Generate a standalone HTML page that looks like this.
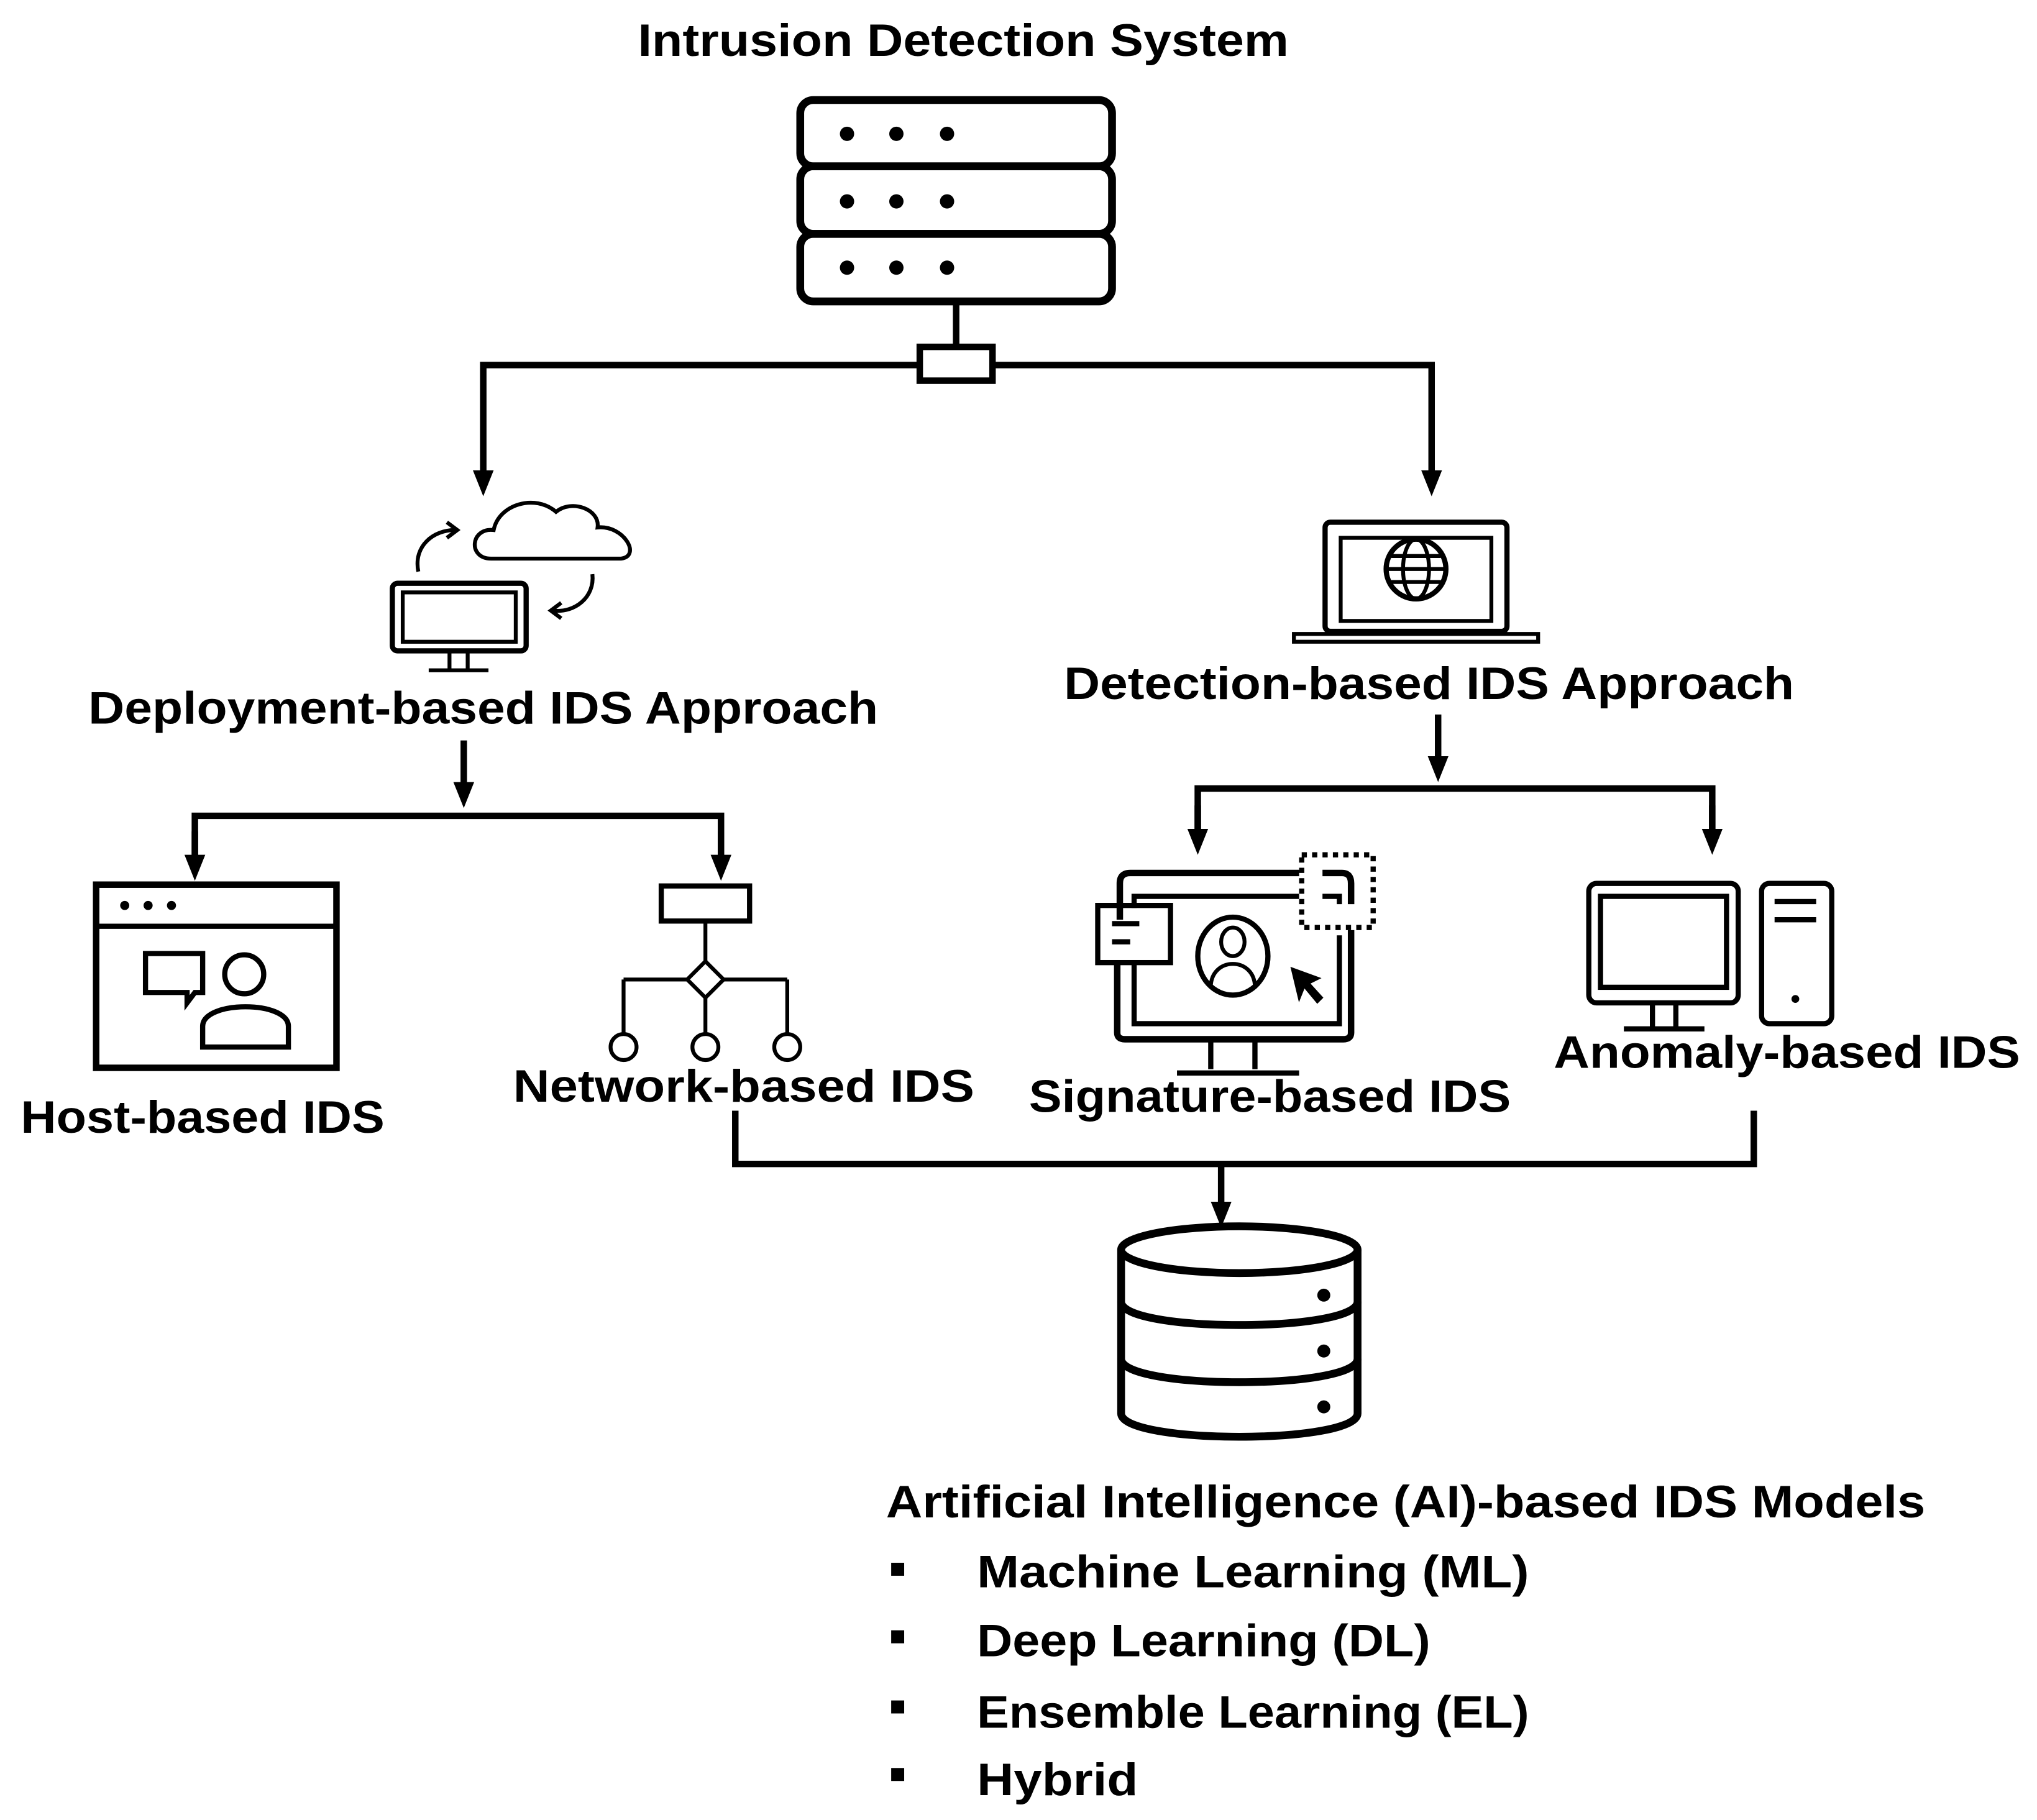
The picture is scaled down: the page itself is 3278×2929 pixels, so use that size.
<!DOCTYPE html>
<html><head><style>html,body{margin:0;padding:0;background:#fff}svg{display:block}</style></head>
<body>
<svg width="3278" height="2929" viewBox="0 0 1568 1401" xmlns="http://www.w3.org/2000/svg" font-family="Liberation Sans, sans-serif" font-weight="bold">
<defs><marker id="a" markerWidth="4" markerHeight="4" refX="2" refY="2" orient="auto" markerUnits="strokeWidth"><path d="M0,0.4 L4,2 L0,3.6z" fill="#000"/></marker></defs>
<g fill="none" stroke="#000">
<!-- server -->
<g stroke-width="6"><rect x="616" y="77" width="240" height="51" rx="10"/><rect x="616" y="128" width="240" height="52" rx="10"/><rect x="616" y="180" width="240" height="52" rx="10"/></g>
<line x1="736" y1="232" x2="736" y2="266" stroke-width="5"/>
<rect x="708" y="267" width="56" height="26" stroke-width="5"/>
<path d="M708,281 H372 V372" stroke-width="5" marker-end="url(#a)"/>
<path d="M764,281 H1102 V372" stroke-width="5" marker-end="url(#a)"/>
<!-- deployment icon -->
<rect x="302" y="449" width="103" height="52" rx="4" stroke-width="4"/><rect x="310" y="456" width="87" height="38" stroke-width="3"/>
<path d="M346,502 V515 M360,502 V515 M330,516 H376" stroke-width="3"/>
<path d="M378,430 C360,430 362,406 380,408 C384,388 412,380 428,394 C440,384 462,392 460,406 C480,404 494,428 478,430 Z" stroke-width="3"/>
<path d="M322,440 C318,420 334,408 350,408" stroke-width="3"/><path d="M344,402 L352,408 L344,414" stroke-width="3"/>
<path d="M456,442 C458,460 442,472 426,470" stroke-width="3"/><path d="M432,464 L424,470 L432,476" stroke-width="3"/>
<path d="M357,570 V612" stroke-width="5" marker-end="url(#a)"/>
<path d="M150,668 V628 H555 V668" stroke-width="5"/>
<path d="M150,640 V668" stroke-width="5" marker-end="url(#a)"/><path d="M555,640 V668" stroke-width="5" marker-end="url(#a)"/>
<!-- host icon -->
<rect x="74" y="681" width="185" height="141" stroke-width="5"/><line x1="74" y1="713" x2="259" y2="713" stroke-width="4"/>
<path d="M112,734 H156 V764 H150 L144,772 L144,764 H112 Z" stroke-width="4"/>
<circle cx="188" cy="750" r="15" stroke-width="4"/><path d="M156,806 V790 C156,770 222,770 222,790 V806 Z" stroke-width="4"/>
<!-- network icon -->
<rect x="509" y="682" width="68" height="27" stroke-width="4"/>
<path d="M543,709 V740 M480,754 H529 M557,754 H606 M480,754 V796 M543,768 V796 M606,754 V796" stroke-width="3"/>
<path d="M543,740 L557,754 L543,768 L529,754 Z" stroke-width="3"/>
<circle cx="480" cy="806" r="10" stroke-width="3"/><circle cx="543" cy="806" r="10" stroke-width="3"/><circle cx="606" cy="806" r="10" stroke-width="3"/>
<!-- laptop -->
<rect x="1020" y="402" width="140" height="84" rx="4" stroke-width="4"/><rect x="1032" y="414" width="116" height="64" stroke-width="3"/>
<path d="M996,488 H1184 V494 H996 Z" stroke-width="3"/>
<circle cx="1090" cy="438" r="23" stroke-width="4"/><ellipse cx="1090" cy="438" rx="10" ry="23" stroke-width="3"/><path d="M1067,438 H1113 M1071,428 H1109 M1071,448 H1109" stroke-width="3"/>
<path d="M1107,550 V592" stroke-width="5" marker-end="url(#a)"/>
<path d="M922,648 V607 H1318 V648" stroke-width="5"/>
<path d="M922,620 V648" stroke-width="5" marker-end="url(#a)"/><path d="M1318,620 V648" stroke-width="5" marker-end="url(#a)"/>
<!-- signature icon -->
<path d="M862,708 V680 Q862,672 870,672 H1000 M1018,672 H1033 Q1040,672 1040,680 V696 M1040,716 V795 Q1040,800 1034,800 H866 Q860,800 860,795 V740" stroke-width="5"/>
<path d="M873,699 V690 H1000 M1018,690 H1031 V696 M1031,720 V788 H873 V742" stroke-width="4"/>
<rect x="845" y="697" width="56" height="44" stroke-width="4"/><path d="M856,711 H877 M856,725 H870" stroke-width="4"/>
<rect x="1002" y="658" width="55" height="56" stroke-width="4" stroke-dasharray="4,4"/>
<ellipse cx="949" cy="736" rx="27" ry="30" stroke-width="4"/><ellipse cx="949" cy="725" rx="9" ry="11" stroke-width="3"/><path d="M932,760 C932,736 966,736 966,760" stroke-width="3"/>
<path d="M932,800 V823 M966,800 V823 M906,826 H1000" stroke-width="4"/>
<path d="M994,745 L1000,770 L1004,760 L1014,772 L1018,768 L1008,757 L1016,753 Z" fill="#000" stroke-width="1"/>
<!-- anomaly icon -->
<rect x="1223" y="680" width="115" height="92" rx="6" stroke-width="4"/><rect x="1232" y="690" width="97" height="70" stroke-width="4"/>
<path d="M1272,772 V792 M1290,772 V792 M1250,792 H1312" stroke-width="4"/>
<rect x="1356" y="680" width="54" height="108" rx="6" stroke-width="4"/><path d="M1366,694 H1398 M1366,708 H1398" stroke-width="4"/>
<!-- bottom -->
<path d="M566,855 V896 H1350 V855" stroke-width="5"/>
<path d="M940,896 V935" stroke-width="5" marker-end="url(#a)"/>
<path d="M863,962 V1088 C863,1112 1045,1112 1045,1088 V962" stroke-width="6"/>
<ellipse cx="954" cy="962" rx="91" ry="18" stroke-width="6"/>
<path d="M863,1002 C863,1026 1045,1026 1045,1002 M863,1046 C863,1070 1045,1070 1045,1046" stroke-width="6"/>
</g>
<g fill="#000">
<circle cx="652" cy="103" r="5.5"/><circle cx="690" cy="103" r="5.5"/><circle cx="729" cy="103" r="5.5"/>
<circle cx="652" cy="155" r="5.5"/><circle cx="690" cy="155" r="5.5"/><circle cx="729" cy="155" r="5.5"/>
<circle cx="652" cy="206" r="5.5"/><circle cx="690" cy="206" r="5.5"/><circle cx="729" cy="206" r="5.5"/>
<circle cx="96" cy="697" r="3.5"/><circle cx="114" cy="697" r="3.5"/><circle cx="132" cy="697" r="3.5"/>
<circle cx="1382" cy="769" r="3"/>
<circle cx="1019" cy="997" r="5"/><circle cx="1019" cy="1040" r="5"/><circle cx="1019" cy="1083" r="5"/>
<rect x="686" y="1203" width="10" height="10"/><rect x="686" y="1255" width="10" height="10"/><rect x="686" y="1309" width="10" height="10"/><rect x="686" y="1361" width="10" height="10"/>
<g font-size="35">
<text x="491" y="43" textLength="501" lengthAdjust="spacingAndGlyphs">Intrusion Detection System</text>
<text x="68" y="557" textLength="608" lengthAdjust="spacingAndGlyphs">Deployment-based IDS Approach</text>
<text x="819" y="538" textLength="562" lengthAdjust="spacingAndGlyphs">Detection-based IDS Approach</text>
<text x="16" y="872" textLength="280" lengthAdjust="spacingAndGlyphs">Host-based IDS</text>
<text x="395" y="848" textLength="355" lengthAdjust="spacingAndGlyphs">Network-based IDS</text>
<text x="792" y="856" textLength="371" lengthAdjust="spacingAndGlyphs">Signature-based IDS</text>
<text x="1196" y="822" textLength="359" lengthAdjust="spacingAndGlyphs">Anomaly-based IDS</text>
<text x="682" y="1168" textLength="800" lengthAdjust="spacingAndGlyphs">Artificial Intelligence (AI)-based IDS Models</text>
<text x="752" y="1222" textLength="425" lengthAdjust="spacingAndGlyphs">Machine Learning (ML)</text>
<text x="752" y="1275" textLength="349" lengthAdjust="spacingAndGlyphs">Deep Learning (DL)</text>
<text x="752" y="1330" textLength="425" lengthAdjust="spacingAndGlyphs">Ensemble Learning (EL)</text>
<text x="752" y="1382" textLength="124" lengthAdjust="spacingAndGlyphs">Hybrid</text>
</g>
</g>
</svg>
</body></html>
